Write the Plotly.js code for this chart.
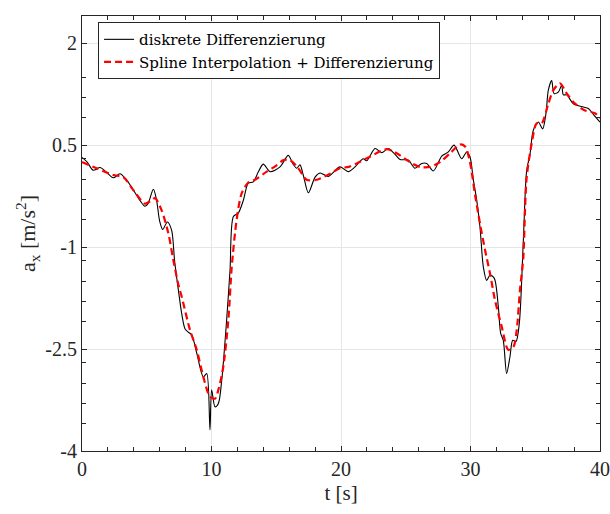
<!DOCTYPE html>
<html>
<head>
<meta charset="utf-8">
<script src="https://cdn.plot.ly/plotly-3.0.1.min.js"></script>
<style>html,body{margin:0;padding:0;background:#fff;}#chart{width:610px;height:514px;}</style>
</head>
<body>
<div id="chart"></div>
<script>
// discrete differentiation (black)
var tDiskret = [0.0,0.4,0.87,1.39,1.9,2.42,2.93,3.4,3.96,4.5,4.86,5.1,5.51,5.75,6.0,6.23,6.59,6.92,7.15,7.44,7.70,7.95,8.2,8.47,8.86,9.37,9.63,9.88,10.01,10.27,10.53,10.79,11.17,11.43,11.69,12.07,12.46,12.84,13.23,13.6,14.0,14.52,15.29,15.93,16.3,16.58,16.83,17.1,17.48,18.0,18.38,19.02,19.92,20.56,21.08,21.72,21.98,22.63,23.14,23.65,24.1,24.56,25.2,25.71,26.23,26.62,27.13,27.78,28.29,28.73,29.32,29.71,29.96,30.22,30.48,30.73,30.99,31.25,31.51,31.84,32.15,32.33,32.53,32.79,33.05,33.26,33.51,33.77,34.08,34.34,34.59,34.85,35.24,35.57,35.83,36.01,36.27,36.45,36.78,37.04,37.17,37.43,37.94,38.71,39.10,39.5,40.0];
var aDiskret = [0.32,0.25,0.13,0.17,0.10,0.02,0.08,0.0,-0.16,-0.32,-0.40,-0.36,-0.15,-0.30,-0.62,-0.74,-0.63,-0.75,-1.2,-1.63,-1.98,-2.20,-2.25,-2.29,-2.56,-2.91,-2.86,-3.69,-3.10,-3.35,-3.30,-2.96,-2.07,-1.34,-0.55,-0.50,-0.31,-0.06,-0.04,0.10,0.22,0.11,0.18,0.35,0.22,0.16,0.21,0.05,-0.20,0.03,0.09,0.04,0.18,0.11,0.18,0.30,0.27,0.45,0.39,0.45,0.38,0.29,0.28,0.16,0.23,0.23,0.12,0.34,0.40,0.50,0.30,0.40,0.33,-0.01,-0.31,-0.70,-1.29,-1.49,-1.41,-1.46,-1.88,-2.27,-2.37,-2.86,-2.61,-2.37,-2.39,-2.12,-0.90,0.13,0.36,0.72,0.84,0.74,0.97,1.31,1.45,1.26,1.28,1.38,1.24,1.24,1.11,1.06,1.04,0.95,0.84];

// spline interpolation + differentiation (red dashed)
var tSpline = [0.0,1.13,2.42,3.19,3.96,4.86,5.3,5.64,6.15,6.67,7.05,7.44,7.70,8.34,8.86,9.37,9.88,10.27,10.53,10.91,11.30,11.56,11.94,12.33,12.84,13.36,14.26,15.0,15.55,16.06,16.70,17.35,18.12,19.15,19.92,20.6,21.21,22.24,23.53,24.30,25.33,26.10,26.87,27.64,28.42,29.19,29.58,29.96,30.35,30.73,31.12,31.51,31.89,32.41,32.92,33.31,33.57,33.82,34.08,34.21,34.34,34.72,35.11,35.49,36.01,36.40,36.91,37.43,38.07,38.84,39.61,40.0];
var aSpline = [0.25,0.16,0.06,0.03,-0.16,-0.36,-0.32,-0.28,-0.46,-0.80,-1.19,-1.55,-1.73,-2.22,-2.51,-2.91,-3.20,-3.23,-3.10,-2.76,-2.07,-1.30,-0.60,-0.21,-0.05,-0.01,0.11,0.20,0.28,0.28,0.16,-0.01,-0.01,0.08,0.16,0.18,0.23,0.33,0.44,0.38,0.25,0.18,0.18,0.25,0.38,0.51,0.48,0.25,-0.23,-0.65,-1.04,-1.39,-1.78,-2.17,-2.51,-2.47,-2.22,-1.63,-1.15,-0.45,0.03,0.52,0.82,0.82,1.11,1.31,1.41,1.26,1.11,1.01,0.97,0.90];

var seriesNames = ['diskrete Differenzierung', 'Spline Interpolation + Differenzierung'];
var yTicks = [-4, -2.5, -1, 0.5, 2];
var yTickText = ['-4', '-2.5', '-1', '0.5', '2'];
var yMinor = [1.5, 1.2, 0.9, 0.3, 0, -0.3, -0.6, -1.2, -1.5, -1.8, -2.1, -2.7, -3.0, -3.3, -3.6];
var xTicks = [0, 10, 20, 30, 40];
var xMinor = [2, 4, 6, 8, 12, 14, 16, 18, 22, 24, 26, 28, 32, 34, 36, 38];

var fontFam = 'Liberation Serif, DejaVu Serif, serif';

var traces = [
  {x: tDiskret, y: aDiskret, mode: 'lines', name: seriesNames[0],
   line: {color: '#000000', width: 1.1, shape: 'spline', smoothing: 0.8}},
  {x: tSpline, y: aSpline, mode: 'lines', name: seriesNames[1],
   line: {color: '#ff0000', width: 2.2, dash: '7px,4px', shape: 'spline', smoothing: 0.8}}
];

var axisCommon = {
  showline: true, linecolor: '#262626', linewidth: 1, mirror: 'ticks',
  ticks: 'inside', ticklen: 5, tickcolor: '#262626', tickwidth: 1,
  showgrid: true, gridcolor: '#e6e6e6', gridwidth: 1,
  zeroline: false,
  tickfont: {family: fontFam, size: 20, color: '#262626'}
};

var layout = {
  width: 610, height: 514,
  margin: {l: 82, r: 10, t: 16, b: 63},
  paper_bgcolor: '#ffffff', plot_bgcolor: '#ffffff',
  showlegend: true,
  legend: {x: 0.031, y: 0.986, xanchor: 'left', yanchor: 'top',
    bgcolor: '#ffffff', bordercolor: '#262626', borderwidth: 1,
    font: {family: 'DejaVu Serif, serif', size: 15, color: '#000000'},
    tracegroupgap: 0, itemwidth: 30},
  xaxis: Object.assign({}, axisCommon, {
    range: [0, 40], tickmode: 'array', tickvals: xTicks, ticktext: xTicks.map(String),
    minor: {tickmode: 'array', tickvals: xMinor, ticks: 'inside', ticklen: 4, tickcolor: '#262626', showgrid: false},
    title: {text: 't [s]', font: {family: fontFam, size: 21, color: '#262626'}, standoff: 6}
  }),
  yaxis: Object.assign({}, axisCommon, {
    range: [-4, 2.4], tickmode: 'array', tickvals: yTicks, ticktext: yTickText,
    minor: {tickmode: 'array', tickvals: yMinor, ticks: 'inside', ticklen: 4, tickcolor: '#262626', showgrid: false},
    title: {text: 'a<sub>x</sub> [m/s<sup>2</sup>]', font: {family: fontFam, size: 22, color: '#262626'}, standoff: 3}
  })
};

Plotly.newPlot('chart', traces, layout, {staticPlot: true, displayModeBar: false});
</script>
</body>
</html>
